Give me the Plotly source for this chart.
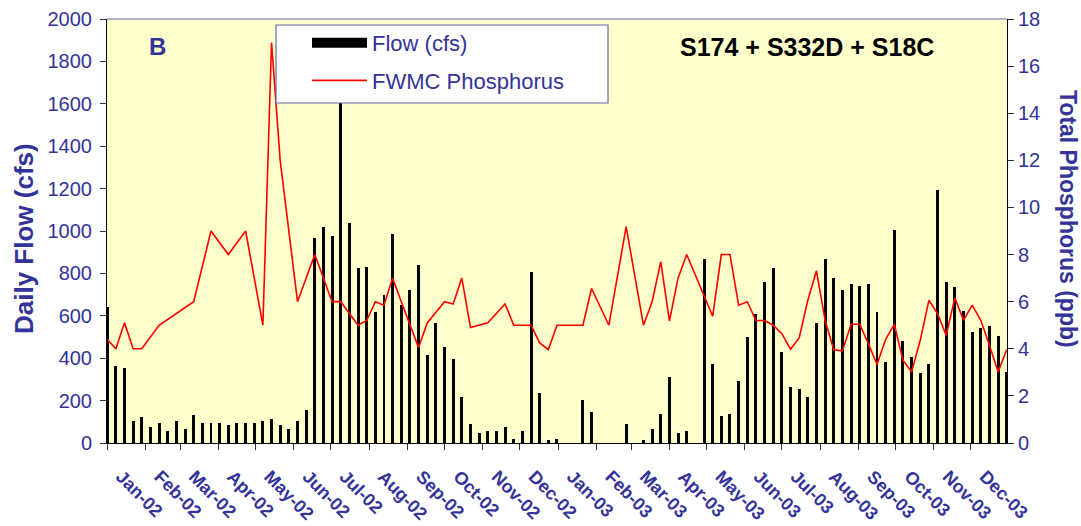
import pandas as pd
import plotly.graph_objects as go

# ---- data -------------------------------------------------------------
week_start = "2002-01-01"
n_weeks = 105
weeks = pd.date_range(week_start, periods=n_weeks, freq="7D")

flow_cfs = [
    642, 364, 356, 102, 121, 77, 93, 58, 102, 66,
    131, 93, 93, 93, 85, 93, 93, 93, 102, 112,
    85, 66, 102, 157, 967, 1020, 976, 1700, 1039, 824,
    832, 616, 698, 986, 650, 724, 841, 417, 564, 454,
    398, 217, 91, 47, 57, 57, 76, 20, 57, 805,
    236, 13, 20, 0, 0, 202, 146, 0, 0, 0,
    91, 0, 13, 66, 139, 309, 49, 57, 0, 868,
    375, 129, 139, 291, 498, 608, 761, 824, 427, 265,
    255, 219, 564, 868, 778, 724, 751, 742, 751, 616,
    383, 1003, 480, 408, 328, 372, 1192, 761, 734, 625,
    524, 543, 553, 507, 335,
]

phosphorus_ppb = [
    4.4, 4.0, 5.1, 4.0, 4.0, None, 5.0, None, None, None,
    6.0, None, 9.0, None, 8.0, None, 9.0, None, 5.0, 17.0,
    12.0, None, 6.0, None, 8.0, None, 6.0, 6.0, None, 5.0,
    5.2, 6.0, 5.85, 7.0, 6.0, None, 4.05, 5.1, None, 6.0,
    5.9, 7.0, 4.9, None, 5.1, None, 5.9, 5.0, None, 5.0,
    4.25, 3.96, 5.0, None, None, 5.0, 6.56, None, 5.0, None,
    9.18, None, 5.0, 6.0, 7.7, 5.18, 7.0, 8.0, None, None,
    5.38, 8.0, 8.0, 5.85, 6.0, 5.2, 5.2, 5.0, 4.64, 3.98,
    4.46, 6.06, 7.31, 5.21, 3.96, 3.91, 5.04, 5.04, 4.22, 3.33,
    4.40, 5.04, 3.51, 3.02, 4.36, 6.06, 5.49, 4.57, 6.16, 5.21,
    5.85, 5.21, 4.15, 3.02, 3.96,
]

month_ticks = pd.date_range("2002-01-01", "2003-12-01", freq="MS")
flow_ticks = [0, 200, 400, 600, 800, 1000, 1200, 1400, 1600, 1800, 2000]
tp_ticks = [0, 2, 4, 6, 8, 10, 12, 14, 16, 18]

# ---- styling ----------------------------------------------------------
FONT = "Liberation Sans, Arial, sans-serif"
NAVY = "#333399"
DAY_MS = 86400000

fig = go.Figure()

fig.add_trace(go.Bar(
    x=weeks, y=flow_cfs, name="Flow (cfs)",
    marker=dict(color="black", line=dict(width=0)),
    width=2.4 * DAY_MS, showlegend=False, yaxis="y",
))
# legend stand-in for the bar series (wide black block like the original)
fig.add_trace(go.Scatter(
    x=[None], y=[None], mode="lines", name="Flow (cfs)",
    line=dict(color="black", width=14), legendgroup="a",
))
fig.add_trace(go.Scatter(
    x=weeks, y=phosphorus_ppb, name="FWMC Phosphorus", mode="lines",
    line=dict(color="#FF0000", width=1.6), connectgaps=True,
    yaxis="y2", legendgroup="b",
))

L, R, T, B = 107, 74, 19, 83
W, H = 1081, 526
pw, ph = W - L - R, H - T - B


def px(x):
    return (x - L) / pw


def py(y):
    return (H - B - y) / ph


def label(text, x, y, size, color=NAVY, angle=0):
    return dict(text=text, x=px(x), y=py(y), xref="paper", yref="paper",
                xanchor="center", yanchor="middle", showarrow=False,
                textangle=angle, font=dict(size=size, color=color, family=FONT))


fig.update_layout(
    width=W, height=H,
    margin=dict(l=L, r=R, t=T, b=B, autoexpand=False),
    paper_bgcolor="white", plot_bgcolor="#FFFFCC",
    font=dict(family=FONT, color=NAVY),
    bargap=0,
    xaxis=dict(
        type="date", automargin=False,
        range=["2001-12-31 20:00", "2003-12-30 05:00"],
        tickvals=month_ticks, tickformat="%b-%y", tickangle=45,
        tickfont=dict(size=18, color=NAVY, family=FONT, weight="bold"),
        ticks="outside", ticklen=6, tickcolor="#333333",
        ticklabelstandoff=9, ticklabelshift=14,
        showline=True, linecolor="black", linewidth=1,
        showgrid=False, zeroline=False,
    ),
    yaxis=dict(
        range=[0, 2000], tickvals=flow_ticks, automargin=False,
        tickfont=dict(size=20, color=NAVY, family=FONT),
        ticks="outside", ticklen=6, tickcolor="#333333",
        ticklabelstandoff=4,
        showline=True, linecolor="black", linewidth=1,
        showgrid=False, zeroline=False,
    ),
    yaxis2=dict(
        range=[0, 18], tickvals=tp_ticks, overlaying="y", side="right",
        automargin=False,
        tickfont=dict(size=20, color=NAVY, family=FONT),
        ticks="outside", ticklen=6, tickcolor="#333333",
        showline=True, linecolor="black", linewidth=1,
        showgrid=False, zeroline=False,
    ),
    legend=dict(
        x=px(307), y=py(22), xanchor="left", yanchor="top",
        bgcolor="rgba(0,0,0,0)", borderwidth=0,
        font=dict(size=22, color=NAVY, family=FONT),
        itemwidth=55, traceorder="grouped", tracegroupgap=6,
    ),
    shapes=[
        dict(type="line", xref="paper", yref="paper", x0=0, x1=1, y0=1, y1=1,
             line=dict(color="#9999CC", width=1.5), layer="above"),
        dict(type="rect", xref="paper", yref="paper",
             x0=px(276), x1=px(608), y0=py(103), y1=py(25),
             fillcolor="white", line=dict(color="#6666AA", width=1.2),
             layer="above"),
    ],
    annotations=[
        label("<b>B</b>", 157, 47, 24),
        label("<b>S174 + S332D + S18C</b>", 807, 47, 25, color="black"),
        label("<b>Daily Flow (cfs)</b>", 24, 239, 26, angle=-90),
        label("<b>Total Phosphorus (ppb)</b>", 1068, 219, 23, angle=90),
    ],
)

fig.write_html("out.html",
               config={"displayModeBar": False},
               post_script="document.body.style.margin='0';")
